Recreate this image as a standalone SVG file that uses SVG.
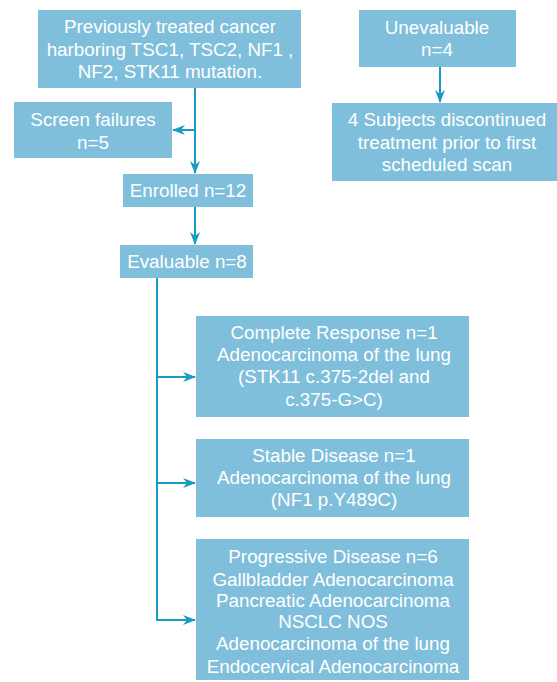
<svg xmlns="http://www.w3.org/2000/svg" width="557" height="682" viewBox="0 0 557 682">
<defs>
<style>
.box{fill:#7fbfdb;}
.t{font-family:"Liberation Sans",Arial,sans-serif;font-size:18.8px;fill:#ffffff;text-anchor:middle;}
.c{stroke:#1a9bc4;stroke-width:2;fill:none;}
</style>
<marker id="ah" viewBox="0 0 13 10" refX="12" refY="5" markerWidth="13" markerHeight="10" markerUnits="userSpaceOnUse" orient="auto">
<path d="M0,0 L13,5 L0,10 L4,5 Z" fill="#1a9bc4"/>
</marker>
</defs>
<rect width="557" height="682" fill="#ffffff"/>
<g id="connectors">
<path class="c" d="M195,88 V173" marker-end="url(#ah)"/>
<path class="c" d="M195,130 H173" marker-end="url(#ah)"/>
<path class="c" d="M195,207 V244" marker-end="url(#ah)"/>
<path class="c" d="M440,67 V102" marker-end="url(#ah)"/>
<path class="c" d="M157,278 V620 H195" marker-end="url(#ah)"/>
<path class="c" d="M157,377 H195" marker-end="url(#ah)"/>
<path class="c" d="M157,483 H195" marker-end="url(#ah)"/>
</g>
<g id="n_start">
<rect class="box" x="38" y="10" width="263" height="78"/>
<text class="t" x="170" y="33">Previously treated cancer</text>
<text class="t" x="170" y="56">harboring TSC1, TSC2, NF1 ,</text>
<text class="t" x="170" y="78">NF2, STK11 mutation.</text>
</g>
<g id="n_screen">
<rect class="box" x="14" y="102" width="158" height="56"/>
<text class="t" x="93" y="126">Screen failures</text>
<text class="t" x="93" y="149">n=5</text>
</g>
<g id="n_enrolled">
<rect class="box" x="123" y="174" width="130" height="33"/>
<text class="t" x="188" y="197">Enrolled n=12</text>
</g>
<g id="n_evaluable">
<rect class="box" x="120" y="245" width="133" height="33"/>
<text class="t" x="187" y="268">Evaluable n=8</text>
</g>
<g id="n_unevaluable">
<rect class="box" x="359" y="10" width="157" height="57"/>
<text class="t" x="437" y="34">Unevaluable</text>
<text class="t" x="437" y="56">n=4</text>
</g>
<g id="n_discontinued">
<rect class="box" x="332" y="103" width="225" height="78"/>
<text class="t" x="447" y="126">4 Subjects discontinued</text>
<text class="t" x="447" y="149">treatment prior to first</text>
<text class="t" x="447" y="171">scheduled scan</text>
</g>
<g id="n_cr">
<rect class="box" x="196" y="316" width="273" height="101"/>
<text class="t" x="334" y="339">Complete Response n=1</text>
<text class="t" x="334" y="361">Adenocarcinoma of the lung</text>
<text class="t" x="334" y="383">(STK11 c.375-2del and</text>
<text class="t" x="334" y="406">c.375-G&gt;C)</text>
</g>
<g id="n_sd">
<rect class="box" x="196" y="439" width="273" height="78"/>
<text class="t" x="334" y="462">Stable Disease n=1</text>
<text class="t" x="334" y="484">Adenocarcinoma of the lung</text>
<text class="t" x="334" y="506">(NF1 p.Y489C)</text>
</g>
<g id="n_pd">
<rect class="box" x="196" y="539" width="273" height="141"/>
<text class="t" x="333" y="563">Progressive Disease n=6</text>
<text class="t" x="333" y="586">Gallbladder Adenocarcinoma</text>
<text class="t" x="333" y="607">Pancreatic Adenocarcinoma</text>
<text class="t" x="333" y="628">NSCLC NOS</text>
<text class="t" x="333" y="650">Adenocarcinoma of the lung</text>
<text class="t" x="333" y="673">Endocervical Adenocarcinoma</text>
</g>
</svg>
